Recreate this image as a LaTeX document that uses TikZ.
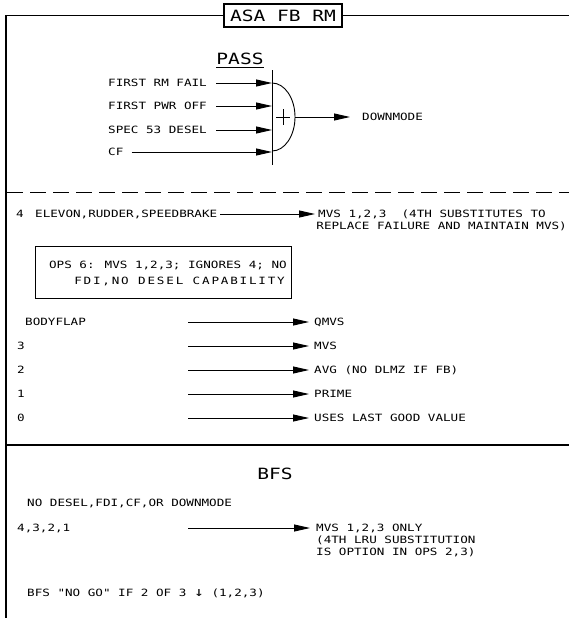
\documentclass[tikz,border=0pt]{standalone}
\usepackage{fontspec}
\usetikzlibrary{arrows.meta}
\newfontfamily\cadfont[FakeStretch=1.26]{DejaVu Sans Mono}
\newfontfamily\cadwide[FakeStretch=1.26, LetterSpace=18]{DejaVu Sans Mono}
\tikzset{
  txt/.style={font=\cadfont\fontsize{10}{12}\selectfont, inner sep=0pt, anchor=west},
  widetxt/.style={font=\cadwide\fontsize{10}{12}\selectfont, inner sep=0pt, anchor=west},
  bigtxt/.style={font=\cadfont\fontsize{15.5}{18}\selectfont, inner sep=0pt},
  arr/.style={line width=0.9pt, -{Triangle[length=16pt,width=7pt]}},
  framel/.style={line width=1.6pt},
  thinl/.style={line width=0.9pt},
}
\begin{document}
\begin{tikzpicture}[x=1pt,y=-1pt]
\useasboundingbox (0,0) rectangle (569,618);
% frame
\node[bigtxt, draw, line width=1.2pt, minimum width=118pt, minimum height=23pt] (title) at (283,15.5) {ASA FB RM};
\coordinate (tl) at (6,15.5);
\coordinate (tr) at (569,15.5);
\coordinate (bl) at (6,618);
\draw[framel] (title.west) -- (tl) -- (bl);
\draw[framel] (title.east) -- (tr);
% PASS block
\node[bigtxt] (pass) at (240,59) {PASS};
\draw[thinl] ([yshift=-2pt]pass.south west) -- ([yshift=-2pt]pass.south east);
\coordinate (bartop) at (272,70);
\coordinate (barbot) at (272,165);
\draw[thinl] (bartop) -- (barbot);
\coordinate (in1) at (272,83);
\coordinate (in2) at (272,106);
\coordinate (in3) at (272,130);
\coordinate (in4) at (272,152);
\node[txt] (f1) at (108,83) {FIRST RM FAIL};
\node[txt] (f2) at (108,106) {FIRST PWR OFF};
\node[txt] (f3) at (108,130) {SPEC 53 DESEL};
\node[txt] (f4) at (108,152) {CF};
\draw[arr] ([xshift=9pt]f1.east) -- (in1);
\draw[arr] ([xshift=9pt]f2.east) -- (in2);
\draw[arr] ([xshift=9pt]f3.east) -- (in3);
\draw[arr] ([xshift=8pt]f4.east) -- (in4);
\coordinate (arctop) at (272,83);
\draw[thinl] (arctop) arc[start angle=90, end angle=-90, x radius=23pt, y radius=34pt];
\coordinate (sumc) at (283,117);
\draw[thinl] ([xshift=-7pt]sumc) -- ([xshift=7pt]sumc);
\draw[thinl] ([yshift=8pt]sumc) -- ([yshift=-8pt]sumc);
\coordinate (sumout) at (295,117);
\node[txt] (down) at (362,117) {DOWNMODE};
\draw[arr] (sumout) -- ([xshift=-12pt]down.west);
% dashed separator
\coordinate (d1) at (7,192);
\coordinate (d2) at (569,192);
\draw[thinl, dash pattern=on 16pt off 7pt] (d1) -- (d2);
% row 4
\node[txt] (n4) at (16,214) {4};
\node[txt] (elev) at (35,214) {ELEVON,RUDDER,SPEEDBRAKE};
\node[txt] (mvs4) at (318,214) {MVS 1,2,3\ \ (4TH SUBSTITUTES TO};
\node[txt, anchor=east] (repl) at (567,226) {REPLACE FAILURE AND MAINTAIN MVS)};
\draw[arr] ([xshift=3pt]elev.east) -- ([xshift=-3pt]mvs4.west);
% OPS box
\node[draw, thinl, minimum width=256pt, minimum height=52pt] (ops) at (163,272) {};
\node[txt, anchor=east] (ops1) at (287,265) {OPS 6: MVS 1,2,3; IGNORES 4; NO};
\node[widetxt, anchor=east] (ops2) at (285,281) {FDI,NO DESEL CAPABILITY};
% value rows
\node[txt] (bf) at (25,322) {BODYFLAP};
\node[txt] (r3) at (17,346) {3};
\node[txt] (r2) at (17,370) {2};
\node[txt] (r1) at (17,394) {1};
\node[txt] (r0) at (17,418) {0};
\coordinate (abf) at (188,322);
\coordinate (a3) at (188,346);
\coordinate (a2) at (188,370);
\coordinate (a1) at (188,394);
\coordinate (a0) at (188,418);
\node[txt] (qmvs) at (314,322) {QMVS};
\node[txt] (mvs) at (314,346) {MVS};
\node[txt] (avg) at (314,370) {AVG (NO DLMZ IF FB)};
\node[txt] (prime) at (314,394) {PRIME};
\node[txt] (last) at (314,418) {USES LAST GOOD VALUE};
\draw[arr] (abf) -- ([xshift=-5pt]qmvs.west);
\draw[arr] (a3) -- ([xshift=-5pt]mvs.west);
\draw[arr] (a2) -- ([xshift=-5pt]avg.west);
\draw[arr] (a1) -- ([xshift=-5pt]prime.west);
\draw[arr] (a0) -- ([xshift=-5pt]last.west);
% solid separator
\coordinate (s1) at (6,445);
\coordinate (s2) at (569,445);
\draw[framel] (s1) -- (s2);
% BFS
\node[bigtxt] (bfs) at (275,474) {BFS};
\node[txt] (nodesel) at (27,503) {NO DESEL,FDI,CF,OR DOWNMODE};
\node[txt] (all) at (17,528) {4,3,2,1};
\coordinate (aall) at (188,528);
\node[txt] (mvso) at (316,528) {MVS 1,2,3 ONLY};
\node[txt] (lru) at (316,540) {(4TH LRU SUBSTITUTION};
\node[txt] (opt) at (316,552) {IS OPTION IN OPS 2,3)};
\draw[arr] (aall) -- ([xshift=-6pt]mvso.west);
\node[txt] (nogo) at (27,593) {BFS "NO GO" IF 2 OF 3 {\fontsize{13}{12}\selectfont ↓} (1,2,3)};
\end{tikzpicture}
\end{document}
